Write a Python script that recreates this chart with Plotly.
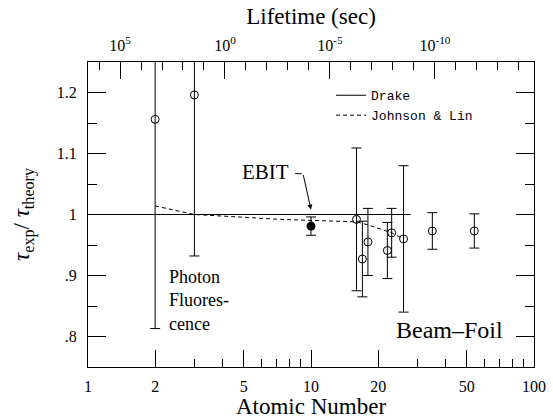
import math
import plotly.graph_objects as go

# ---------------- data ----------------
Z_photon = [2, 3]
ratio_photon = [1.156, 1.196]
err_photon = [0.343, 0.264]

Z_ebit = [10]
ratio_ebit = [0.981]
err_ebit = [0.015]

Z_foil = [16, 17, 18, 22, 23, 26, 35, 54]
ratio_foil = [0.992, 0.927, 0.955, 0.941, 0.970, 0.960, 0.973, 0.973]
err_foil = [0.117, 0.062, 0.055, 0.046, 0.040, 0.120, 0.030, 0.028]

drake_Z = [1, 28]
drake_ratio = [1.0, 1.0]

jl_Z = [2, 3, 7.3, 10, 16, 18, 23, 26]
jl_ratio = [1.014, 1.000, 0.992, 0.990, 0.988, 0.983, 0.970, 0.960]

x_tickvals = [1, 2, 5, 10, 20, 50, 100]
x_ticktext = ["1", "2", "5", "10", "20", "50", "100"]
x_minor = [3, 4, 6, 7, 8, 9, 30, 40, 60, 70, 80, 90]

y_tickvals = [0.8, 0.9, 1.0, 1.1, 1.2]
y_ticktext = [".8", ".9", "1", "1.1", "1.2"]
y_minor = [0.85, 0.95, 1.05, 1.15]

top_tickvals = [1e5, 1e0, 1e-5, 1e-10]
top_ticktext = ["10<sup>5</sup>", "10<sup>0</sup>", "10<sup>-5</sup>", "10<sup>-10</sup>"]
top_minor = [10.0 ** k for k in range(6, -15, -1) if k % 5 != 0]

FONT = "Liberation Serif"
BLACK = "black"

fig = go.Figure()

fig.add_trace(go.Scatter(
    x=drake_Z, y=drake_ratio, mode="lines", name="Drake",
    line=dict(color=BLACK, width=1)))
fig.add_trace(go.Scatter(
    x=jl_Z, y=jl_ratio, mode="lines", name="Johnson & Lin",
    line=dict(color=BLACK, width=1, dash="4px,3px")))

err_style = dict(type="data", visible=True, color=BLACK, thickness=1, width=5)

fig.add_trace(go.Scatter(
    x=Z_photon, y=ratio_photon, mode="markers", showlegend=False,
    error_y=dict(array=err_photon, **err_style),
    marker=dict(symbol="circle-open", size=8, color=BLACK, line=dict(width=1, color=BLACK))))
fig.add_trace(go.Scatter(
    x=Z_foil, y=ratio_foil, mode="markers", showlegend=False,
    error_y=dict(array=err_foil, **err_style),
    marker=dict(symbol="circle-open", size=8, color=BLACK, line=dict(width=1, color=BLACK))))
fig.add_trace(go.Scatter(
    x=Z_ebit, y=ratio_ebit, mode="markers", showlegend=False,
    error_y=dict(array=err_ebit, **err_style),
    marker=dict(symbol="circle", size=9, color=BLACK)))

# trace carrying the top (lifetime) axis
fig.add_trace(go.Scatter(x=[], y=[], xaxis="x2", showlegend=False, hoverinfo="skip"))

axis_common = dict(showline=True, linecolor=BLACK, linewidth=1, ticks="inside",
                   tickcolor=BLACK, tickwidth=1, showgrid=False, zeroline=False,
                   automargin=True,
                   tickfont=dict(family=FONT, size=16, color=BLACK))

fig.update_layout(
    width=553, height=419,
    margin=dict(l=88, r=19, t=62, b=52, autoexpand=False),
    paper_bgcolor="white", plot_bgcolor="white",
    font=dict(family=FONT, size=16, color=BLACK),
    xaxis=dict(type="log", range=[0, 2], tickmode="array",
               tickvals=x_tickvals, ticktext=x_ticktext, ticklen=17,
               ticklabelstandoff=5,
               minor=dict(tickmode="array", tickvals=x_minor, ticks="inside",
                          ticklen=8, tickcolor=BLACK, tickwidth=1, showgrid=False),
               title=dict(text="Atomic Number", font=dict(family=FONT, size=23), standoff=2),
               **axis_common),
    xaxis2=dict(type="log", overlaying="x", side="top", range=[6.525, -14.72],
                tickmode="array", tickvals=top_tickvals, ticktext=top_ticktext,
                ticklen=17, ticklabelstandoff=4,
                minor=dict(tickmode="array", tickvals=top_minor, ticks="inside",
                           ticklen=8, tickcolor=BLACK, tickwidth=1, showgrid=False),
                title=dict(text="Lifetime (sec)", font=dict(family=FONT, size=23), standoff=2),
                **axis_common),
    yaxis=dict(range=[0.75, 1.25], tickmode="array", tickvals=y_tickvals,
               ticktext=y_ticktext, ticklen=18, mirror="ticks",
               ticklabelstandoff=7,
               minor=dict(tickmode="array", tickvals=y_minor, ticks="inside",
                          ticklen=9, tickcolor=BLACK, tickwidth=1, showgrid=False),
               title=dict(text="<i>τ</i><sub>exp</sub>/ <i>τ</i><sub>theory</sub>",
                          font=dict(family=FONT, size=23), standoff=20),
               **axis_common),
    legend=dict(x=0.545, y=0.94, xanchor="left", yanchor="top",
                bgcolor="rgba(0,0,0,0)", borderwidth=0, itemwidth=30,
                tracegroupgap=0,
                font=dict(family="Liberation Mono", size=13, color=BLACK)),
    showlegend=True,
)

def px_to_paper(px, py):
    return (px - 88) / 446.0, (366.7 - py) / 305.0

annos = []
# EBIT label
ex, ey = px_to_paper(265, 172)
annos.append(dict(text="EBIT", x=ex, y=ey, xref="paper", yref="paper",
                  xanchor="center", yanchor="middle",
                  showarrow=False, font=dict(family=FONT, size=21)))
# EBIT arrow (stub + pointing segment)
annos.append(dict(text="", x=math.log10(Z_ebit[0]), y=1.008, xref="x", yref="y",
                  ax=-8, ay=-36, showarrow=True, arrowhead=2, arrowsize=1,
                  arrowwidth=1, arrowcolor=BLACK))
annos.append(dict(text="", x=math.log10(9.08), y=1.067, xref="x", yref="y",
                  ax=-8, ay=0, showarrow=True, arrowhead=0, arrowwidth=1,
                  arrowcolor=BLACK))
# Photon Fluorescence label
tx, ty = px_to_paper(167, 300)
annos.append(dict(text="Photon<br>Fluores-<br>cence", x=tx, y=ty,
                  xref="paper", yref="paper", xanchor="left", yanchor="middle",
                  align="left", showarrow=False,
                  font=dict(family=FONT, size=18)))
# Beam-Foil label
bx, by = px_to_paper(449, 330)
annos.append(dict(text="Beam–Foil", x=bx, y=by, xref="paper", yref="paper",
                  xanchor="center", yanchor="middle",
                  showarrow=False, font=dict(family=FONT, size=24)))

fig.update_layout(annotations=annos)

fig.write_html("out.html")
